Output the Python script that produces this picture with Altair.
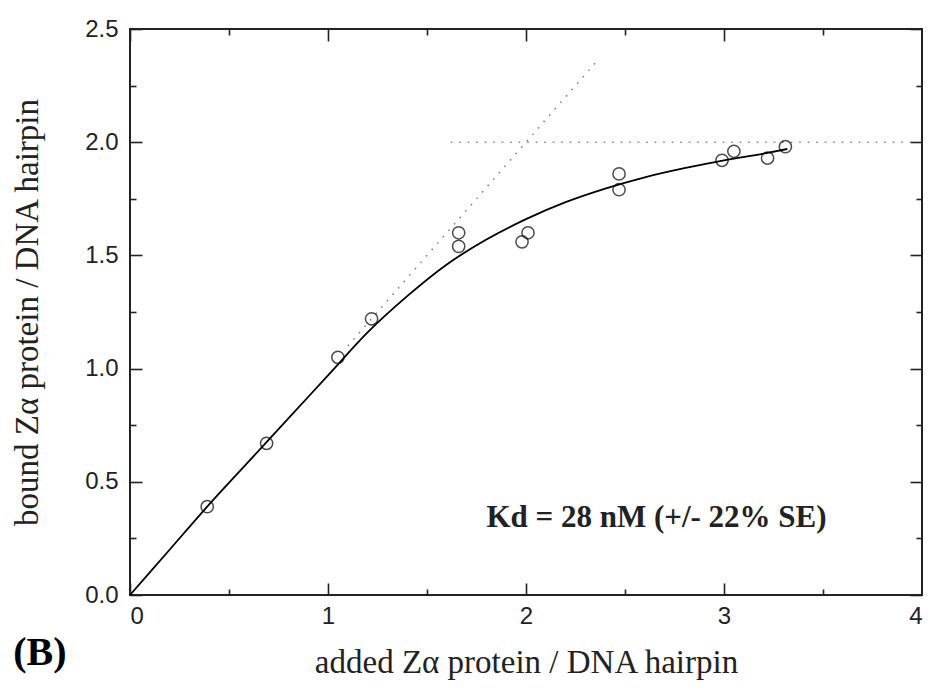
import altair as alt
import pandas as pd

# measured data points (added / bound)
pt_x = [0.39, 0.69, 1.05, 1.22, 1.66, 1.66, 1.98, 2.01, 2.47, 2.47, 2.99, 3.05, 3.22, 3.31]
pt_y = [0.39, 0.67, 1.05, 1.22, 1.60, 1.54, 1.56, 1.60, 1.86, 1.79, 1.92, 1.96, 1.93, 1.98]

# fitted curve
cv_x = [0, 0.2, 0.4, 0.6, 0.8, 1.0, 1.2, 1.4, 1.6, 1.8, 2.0, 2.2, 2.4, 2.6, 2.8, 3.0, 3.2, 3.32]
cv_y = [0, 0.20, 0.40, 0.59, 0.78, 0.97, 1.16, 1.32, 1.46, 1.57, 1.66, 1.735, 1.795, 1.845, 1.885, 1.92, 1.95, 1.97]

# dotted guide lines
diag_x = [1.1, 2.35]
diag_y = [1.1, 2.35]
sat_x = [1.62, 3.95]
sat_y = [2.0, 2.0]

# annotations
kd_label = ["Kd = 28 nM (+/- 22% SE)"]
kd_x = [1.80]
kd_y = [0.30]
panel_label = ["(B)"]
panel_x = [-0.59]
panel_y = [-0.31]

# axis ticks
x_major = [0, 1, 2, 3, 4]
x_minor = [0.5, 1.5, 2.5, 3.5]
y_major = [0, 0.5, 1.0, 1.5, 2.0, 2.5]
y_minor = [0.25, 0.75, 1.25, 1.75, 2.25]

XT = "added Zα protein / DNA hairpin"
YT = "bound Zα protein / DNA hairpin"

INK = "#222222"
xs = alt.Scale(domain=[0, 4], nice=False, zero=False)
ys = alt.Scale(domain=[0, 2.5], nice=False, zero=False)


def tick_axis(orient, values, size, labels=False, title=None, fmt=None, pad=0, tpad=0):
    kw = dict(orient=orient, values=values, offset=-size, tickSize=size, domain=False,
              grid=False, tickColor=INK, tickWidth=1.6, labels=labels, title=title)
    if labels:
        kw.update(labelFont="Liberation Sans", labelFontSize=24, labelColor=INK,
                  labelPadding=pad)
        if fmt:
            kw["format"] = fmt
    if title:
        kw.update(titleFont="Liberation Serif", titleFontSize=33, titleFontWeight="normal",
                  titleColor=INK, titlePadding=tpad)
    return alt.Axis(**kw)


sat_df = pd.DataFrame({"x": sat_x, "y": sat_y})
diag_df = pd.DataFrame({"x": diag_x, "y": diag_y})
curve_df = pd.DataFrame({"x": cv_x, "y": cv_y})
pts_df = pd.DataFrame({"x": pt_x, "y": pt_y})
kd_df = pd.DataFrame({"x": kd_x, "y": kd_y, "t": kd_label})
b_df = pd.DataFrame({"x": panel_x, "y": panel_y, "t": panel_label})

dot = dict(color="#808080", strokeWidth=1.6, strokeDash=[1.5, 7])

sat = alt.Chart(sat_df).mark_line(**dot).encode(
    x=alt.X("x:Q", scale=xs, axis=tick_axis("bottom", x_major, 12, labels=True, title=XT,
                                            fmt="d", pad=9, tpad=18)),
    y=alt.Y("y:Q", scale=ys, axis=tick_axis("left", y_major, 12, labels=True, title=YT,
                                            fmt=".1f", pad=12, tpad=40)),
)

diag = alt.Chart(diag_df).mark_line(**dot).encode(
    x=alt.X("x:Q", scale=xs, axis=tick_axis("top", x_major, 12)),
    y=alt.Y("y:Q", scale=ys, axis=tick_axis("right", y_major, 12)),
)

curve = alt.Chart(curve_df).mark_line(color="black", strokeWidth=1.8, interpolate="monotone").encode(
    x=alt.X("x:Q", scale=xs, axis=tick_axis("bottom", x_minor, 6)),
    y=alt.Y("y:Q", scale=ys, axis=tick_axis("left", y_minor, 6)),
)

pts = alt.Chart(pts_df).mark_point(shape="circle", filled=False, size=150, color="black",
                                   strokeWidth=1.5).encode(
    x=alt.X("x:Q", scale=xs, axis=tick_axis("top", x_minor, 6)),
    y=alt.Y("y:Q", scale=ys, axis=tick_axis("right", y_minor, 6)),
)

kd = alt.Chart(kd_df).mark_text(font="Liberation Serif", fontSize=31, fontWeight="bold",
                                color=INK, align="left", baseline="alphabetic").encode(
    x=alt.X("x:Q", scale=xs, axis=None),
    y=alt.Y("y:Q", scale=ys, axis=None),
    text="t:N",
)

blab = alt.Chart(b_df).mark_text(font="Liberation Serif", fontSize=40, fontWeight="bold",
                                 color="black", align="left", baseline="alphabetic").encode(
    x=alt.X("x:Q", scale=xs, axis=None),
    y=alt.Y("y:Q", scale=ys, axis=None),
    text="t:N",
)

chart = alt.layer(sat, diag, curve, pts, kd, blab).resolve_axis(
    x="independent", y="independent"
).properties(
    width=792, height=566,
    padding={"left": 122, "top": 21, "right": 1, "bottom": 85},
    autosize=alt.AutoSizeParams(type="none"),
    background="white",
).configure_view(stroke=INK, strokeWidth=2)

chart.save("out.html", embed_options={"renderer": "svg", "actions": False})
